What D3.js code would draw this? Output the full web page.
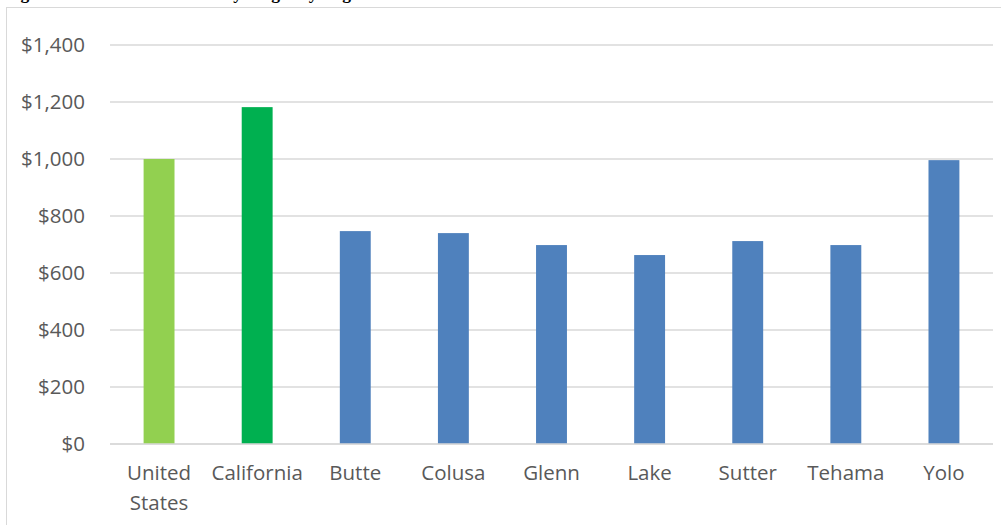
<!DOCTYPE html>
<html>
<head>
<meta charset="utf-8">
<script src="https://cdn.jsdelivr.net/npm/d3@7"></script>
<style>
  body { margin: 0; background: #fff; }
  .axis text { font-family: "Open Sans", Lato, sans-serif; font-size: 20.5px; fill: #595959; }
</style>
</head>
<body>
<svg id="wage-chart" width="1001" height="525"></svg>
<script>
//data
var categories = ["United States", "California", "Butte", "Colusa", "Glenn", "Lake", "Sutter", "Tehama", "Yolo"];
var wages = [1000, 1182, 747, 740, 698, 663, 712, 698, 996];
var barColors = ["#92d050", "#00b050", "#4f81bd", "#4f81bd", "#4f81bd", "#4f81bd", "#4f81bd", "#4f81bd", "#4f81bd"];
var yTicks = [0, 200, 400, 600, 800, 1000, 1200, 1400];

var svg = d3.select("#wage-chart");

//title sits above the frame, mostly cut off
svg.append("text")
    .attr("x", 5)
    .attr("y", -1)
    .attr("font-family", "Liberation Serif, serif")
    .attr("font-weight", "bold")
    .attr("font-size", 17.5)
    .text("Figure 7: Farmworker Monthly Wages by Region");

//chart frame
svg.append("rect")
    .attr("x", 6.5).attr("y", 7.5)
    .attr("width", 1100).attr("height", 600)
    .attr("fill", "none")
    .attr("stroke", "#d9d9d9");

//plot area edges (not named top/left: window.top is read-only)
var plotLeft = 110, plotRight = 993, plotTop = 45, plotBottom = 444;

var x = d3.scaleBand().domain(categories).range([plotLeft, plotRight]).paddingInner(0.685).paddingOuter(0.3425);
var y = d3.scaleLinear().domain([0, 1400]).range([plotBottom, plotTop]);

//gridlines
svg.append("g")
    .selectAll("line")
    .data(yTicks)
    .enter().append("line")
    .attr("x1", plotLeft).attr("x2", plotRight)
    .attr("y1", function(d) { return y(d); })
    .attr("y2", function(d) { return y(d); })
    .attr("stroke", "#d9d9d9")
    .attr("stroke-width", 1.3);

//y axis labels
var yAxis = svg.append("g")
    .attr("class", "axis")
    .attr("transform", "translate(" + 85 + ",0)")
    .call(d3.axisLeft(y).tickValues(yTicks).tickSize(0).tickPadding(0).tickFormat(function(d) { return "$" + d3.format(",")(d); }));
yAxis.select(".domain").remove();

//bars
svg.append("g")
    .selectAll("rect")
    .data(wages)
    .enter().append("rect")
    .attr("x", function(d, i) { return x(categories[i]); })
    .attr("width", x.bandwidth())
    .attr("y", function(d) { return y(d); })
    .attr("height", function(d) { return y(0) - y(d); })
    .attr("fill", function(d, i) { return barColors[i]; });

//baseline
svg.append("line")
    .attr("x1", plotLeft).attr("x2", plotRight)
    .attr("y1", y(0)).attr("y2", y(0))
    .attr("stroke", "#d9d9d9")
    .attr("stroke-width", 1.5);

//x axis labels, wrapping two-word names
var xAxis = svg.append("g")
    .attr("class", "axis")
    .attr("transform", "translate(0," + y(0) + ")")
    .call(d3.axisBottom(x).tickSize(0).tickPadding(0));
xAxis.select(".domain").remove();
xAxis.selectAll("text").each(function(d) {
  var t = d3.select(this).text("").attr("dy", null).attr("y", 36);
  d.split(" ").forEach(function(word, i) {
    t.append("tspan").attr("x", 0).attr("dy", i ? 30 : 0).text(word);
  });
});
</script>
</body>
</html>
